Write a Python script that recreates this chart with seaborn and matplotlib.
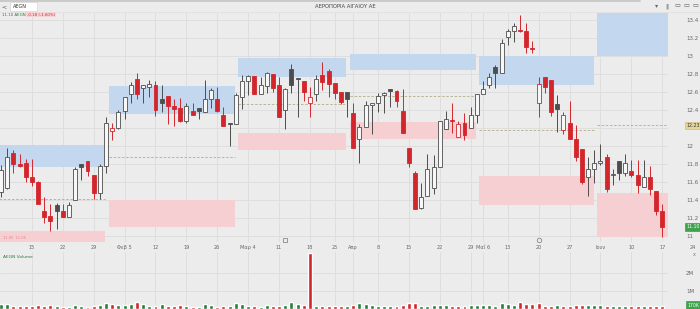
import numpy as np
import pandas as pd
import matplotlib
matplotlib.use("Agg")
import matplotlib.pyplot as plt
import seaborn as sns
from matplotlib.patches import Rectangle
from matplotlib.transforms import blended_transform_factory
from matplotlib.ticker import FixedLocator, FuncFormatter

# ---------------- data ----------------
opens = [11.49, 11.53, 11.92, 11.80, 11.81, 11.66, 11.60, 11.28, 11.22, 11.34,
         11.28, 11.21, 11.40, 11.80, 11.83, 11.68, 11.48, 11.78, 12.17, 12.20,
         12.39, 12.58, 12.74, 12.64, 12.66, 12.68, 12.52, 12.56, 12.44, 12.42,
         12.28, 12.39, 12.42, 12.38, 12.52, 12.52, 12.34, 12.26, 12.24, 12.54,
         12.72, 12.78, 12.58, 12.67, 12.80, 12.68, 12.40, 12.86, 12.76, 12.72,
         12.48, 12.58, 12.79, 12.83, 12.70, 12.60, 12.60, 12.37, 12.08, 12.21,
         12.46, 12.48, 12.57, 12.63, 12.61, 12.39, 11.98, 11.70, 11.31, 11.44,
         11.53, 11.77, 12.19, 12.29, 12.10, 12.26, 12.20, 12.34, 12.58, 12.68,
         12.88, 12.81, 13.21, 13.28, 13.29, 13.28, 13.09, 12.48, 12.77, 12.73,
         12.47, 12.18, 12.26, 12.08, 11.97, 11.66, 11.74, 11.81, 11.88, 11.68,
         11.83, 11.70, 11.72, 11.68, 11.54, 11.66, 11.50, 11.28]
highs = [11.79, 11.98, 11.96, 11.91, 11.86, 11.86, 11.61, 11.43, 11.36, 11.37,
         11.36, 11.38, 11.77, 11.80, 11.83, 11.68, 11.80, 12.32, 12.26, 12.40,
         12.55, 12.71, 12.81, 12.68, 12.73, 12.72, 12.68, 12.56, 12.52, 12.53,
         12.48, 12.48, 12.42, 12.73, 12.64, 12.66, 12.43, 12.26, 12.59, 12.79,
         12.79, 12.78, 12.77, 12.82, 12.80, 12.77, 12.64, 12.91, 12.76, 12.72,
         12.66, 12.79, 12.93, 12.86, 12.70, 12.60, 12.60, 12.48, 12.24, 12.50,
         12.48, 12.59, 12.60, 12.63, 12.62, 12.63, 11.98, 11.72, 11.59, 11.91,
         11.90, 12.28, 12.39, 12.48, 12.28, 12.37, 12.43, 12.58, 12.72, 12.81,
         12.90, 13.19, 13.30, 13.37, 13.46, 13.37, 13.17, 12.77, 12.77, 12.73,
         12.57, 12.38, 12.50, 12.23, 11.97, 11.88, 11.96, 12.02, 11.91, 11.74,
         11.83, 11.91, 11.84, 11.84, 11.84, 11.78, 11.50, 11.36]
lows = [11.43, 11.52, 11.70, 11.77, 11.60, 11.56, 11.35, 11.14, 11.06, 11.08,
        11.21, 11.21, 11.40, 11.62, 11.67, 11.41, 11.41, 11.70, 12.07, 12.19,
        12.30, 12.48, 12.52, 12.48, 12.54, 12.33, 12.38, 12.24, 12.22, 12.27,
        12.26, 12.34, 12.30, 12.38, 12.42, 12.38, 12.22, 12.00, 12.24, 12.41,
        12.57, 12.58, 12.58, 12.59, 12.60, 12.32, 12.19, 12.59, 12.32, 12.50,
        12.32, 12.50, 12.62, 12.54, 12.52, 12.47, 12.32, 11.98, 11.81, 12.21,
        12.13, 12.38, 12.37, 12.43, 12.43, 12.14, 11.77, 11.30, 11.30, 11.44,
        11.47, 11.77, 12.19, 12.14, 12.10, 12.07, 12.20, 12.26, 12.58, 12.64,
        12.64, 12.81, 13.12, 13.16, 13.27, 13.03, 13.03, 12.32, 12.59, 12.33,
        12.16, 12.13, 12.08, 11.83, 11.58, 11.44, 11.59, 11.79, 11.49, 11.57,
        11.62, 11.67, 11.66, 11.48, 11.54, 11.46, 11.23, 10.99]
closes = [11.73, 11.88, 11.80, 11.78, 11.66, 11.60, 11.36, 11.21, 11.17, 11.28,
          11.21, 11.34, 11.74, 11.77, 11.72, 11.48, 11.78, 12.26, 12.20, 12.38,
          12.54, 12.68, 12.58, 12.68, 12.69, 12.40, 12.48, 12.44, 12.41, 12.28,
          12.44, 12.34, 12.39, 12.52, 12.62, 12.39, 12.22, 12.24, 12.57, 12.72,
          12.78, 12.58, 12.68, 12.81, 12.64, 12.32, 12.63, 12.68, 12.75, 12.60,
          12.54, 12.74, 12.71, 12.69, 12.59, 12.49, 12.52, 11.98, 12.21, 12.46,
          12.48, 12.56, 12.59, 12.61, 12.50, 12.14, 11.81, 11.30, 11.43, 11.74,
          11.77, 12.28, 12.30, 12.28, 12.24, 12.12, 12.34, 12.58, 12.63, 12.77,
          12.81, 13.14, 13.28, 13.33, 13.28, 13.10, 13.08, 12.69, 12.66, 12.38,
          12.41, 12.34, 12.08, 11.88, 11.60, 11.74, 11.81, 11.83, 11.52, 11.69,
          11.70, 11.81, 11.68, 11.57, 11.66, 11.52, 11.28, 11.10]
volumes_m = [0.28, 0.28, 0.17, 0.17, 0.17, 0.17, 0.20, 0.17, 0.22, 0.17,
             0.13, 0.13, 0.20, 0.17, 0.13, 0.17, 0.20, 0.31, 0.28, 0.24,
             0.24, 0.28, 0.37, 0.28, 0.17, 0.18, 0.26, 0.17, 0.17, 0.24,
             0.18, 0.13, 0.13, 0.28, 0.22, 0.13, 0.17, 0.17, 0.35, 0.28,
             0.17, 0.17, 0.13, 0.22, 0.17, 0.17, 0.22, 0.39, 0.28, 0.24,
             3.10, 0.17, 0.17, 0.17, 0.17, 0.17, 0.17, 0.24, 0.35, 0.28,
             0.20, 0.17, 0.17, 0.17, 0.17, 0.20, 0.35, 0.31, 0.17, 0.17,
             0.20, 0.24, 0.20, 0.17, 0.17, 0.17, 0.20, 0.24, 0.20, 0.24,
             0.17, 0.35, 0.28, 0.20, 0.39, 0.28, 0.28, 0.31, 0.17, 0.17,
             0.20, 0.17, 0.17, 0.20, 0.20, 0.20, 0.20, 0.20, 0.17, 0.17,
             0.17, 0.17, 0.17, 0.17, 0.17, 0.17, 0.17, 0.17]

holidays = ["2024-03-18", "2024-03-25", "2024-03-29", "2024-04-01", "2024-05-01",
            "2024-05-02", "2024-05-03", "2024-05-06", "2024-06-24"]
week_ticks = ["2024-01-15", "2024-01-22", "2024-01-29", "2024-02-05", "2024-02-12",
              "2024-02-19", "2024-02-26", "2024-03-04", "2024-03-11", "2024-03-18",
              "2024-03-25", "2024-04-01", "2024-04-08", "2024-04-15", "2024-04-22",
              "2024-04-29", "2024-05-06", "2024-05-13", "2024-05-20", "2024-05-27",
              "2024-06-03", "2024-06-10", "2024-06-17", "2024-06-24"]
week_labels = ["15", "22", "29", "Φεβ 5", "12", "19", "26", "Μαρ 4", "11", "18",
               "25", "Απρ", "8", "15", "22", "29", "Μαΐ 6", "13", "20", "27",
               "Ιουν", "10", "17", "24"]
month_starts = ["2024-01-01", "2024-02-01", "2024-03-01", "2024-04-01", "2024-05-01", "2024-06-01"]
blue_top = [12.01, 12.67, 12.98, 13.02, 13.00, 13.50]
blue_bot = [11.77, 12.36, 12.77, 12.84, 12.68, 13.00]
pink_top = [11.05, 11.40, 12.14, 12.27, 11.67, 11.48]
pink_bot = [10.90, 11.10, 11.96, 12.08, 11.34, 10.99]
mid_level = [11.41, 11.88, 12.47, 12.56, 12.18, 12.23]
event_dates = ["2024-03-12", "2024-05-20"]
price_ticks = [11.0, 11.2, 11.4, 11.6, 11.8, 12.0, 12.2, 12.4, 12.6, 12.8, 13.0, 13.2, 13.4]
volume_ticks = [1.0, 2.0]
volume_tick_labels = ["1M", "2M"]

# ---------------- derived ----------------
o = np.array(opens); h = np.array(highs); l = np.array(lows); c = np.array(closes)
n = len(c)
idx = np.arange(n)
days = pd.bdate_range("2024-01-08", "2024-06-28")
days = days[~days.isin(pd.to_datetime(holidays))]
tick_pos = days.searchsorted(pd.to_datetime(week_ticks))
month_first = days.searchsorted(pd.to_datetime(month_starts))
event_pos = days.searchsorted(pd.to_datetime(event_dates))
prev_c = np.r_[c[0], c[:-1]]
down = c < prev_c
hollow = c > o

RED = "#d3262c"
DARK = "#4d4d4d"
GREEN = "#23803a"
BG = "#ececec"
GRID = "#dcdcdc"
BLUE_Z = "#c3d8ee"
PINK_Z = "#f5cfd2"
MID = "#b3ad88"

sns.set_theme(style="whitegrid")
plt.rcParams["font.family"] = ["DejaVu Sans"]

W, H = 700, 309
fig = plt.figure(figsize=(W / 100, H / 100), dpi=100, facecolor=BG)


def fx(px):
    return px / W


def fy(py):
    return 1 - py / H


XL = (-0.16, 107.93)
axp = fig.add_axes([0, fy(242), 668 / W, (242 - 13) / H])
axv = fig.add_axes([0, fy(309), 668 / W, (309 - 252) / H])

for ax in (axp, axv):
    ax.set_facecolor(BG)
    for s in ax.spines.values():
        s.set_visible(False)
    ax.grid(True, color=GRID, lw=0.6)
    ax.set_axisbelow(True)

# ----- price pane -----
axp.set_xlim(*XL)
axp.set_ylim(10.933, 13.478)

# zones
for m in range(len(month_starts)):
    x0 = month_first[m] - 0.6
    x1 = (month_first[m + 1] - 1.1) if m + 1 < len(month_starts) else XL[1]
    axp.add_patch(Rectangle((x0, blue_bot[m]), x1 - x0, blue_top[m] - blue_bot[m],
                            facecolor=BLUE_Z, edgecolor="none", zorder=1))
    axp.add_patch(Rectangle((x0, pink_bot[m]), x1 - x0, pink_top[m] - pink_bot[m],
                            facecolor=PINK_Z, edgecolor="none", zorder=1))
    axp.plot([x0, x1], [mid_level[m], mid_level[m]], color=MID, lw=0.6,
             dashes=(3, 2), zorder=1.5)

# candles
for i in idx:
    col = RED if down[i] else DARK
    face = "#f7f7f7" if hollow[i] else col
    axp.vlines(i, l[i], h[i], color=col, lw=0.7, zorder=2)
    body = max(abs(c[i] - o[i]), 0.006)
    axp.bar(i, body, bottom=min(o[i], c[i]), width=0.64, color=face,
            edgecolor=col, linewidth=0.6, zorder=3)

axp.xaxis.set_major_locator(FixedLocator(tick_pos))
axp.set_xticklabels(week_labels)
axp.tick_params(axis="x", length=0, pad=2.0, labelsize=3.6, labelcolor="#666666")
axp.yaxis.tick_right()
axp.yaxis.set_major_locator(FixedLocator(price_ticks))
tag_level = mid_level[-1]
axp.yaxis.set_major_formatter(FuncFormatter(
    lambda v, p: "" if abs(v - tag_level) < 0.06 else f"{round(v, 2):g}"))
axp.tick_params(axis="y", length=0, pad=13, labelsize=4, labelcolor="#666666")
axp.set_xlabel(""); axp.set_ylabel("")

# "24" beyond the last bar
trans_p = blended_transform_factory(axp.transData, axp.transAxes)
axp.text(tick_pos[-1], -0.022, week_labels[-1], transform=trans_p, ha="center", va="center",
         fontsize=3.6, color="#666666", clip_on=False)

# event markers
axp.plot([event_pos[0]], [0.01], marker="s", ms=3, mfc=BG, mec="#888888", mew=0.6,
         transform=trans_p, clip_on=False, zorder=5)
axp.plot([event_pos[1]], [0.01], marker="o", ms=3.2, mfc=BG, mec="#888888", mew=0.6,
         transform=trans_p, clip_on=False, zorder=5)

# zone text inside January pink
axp.text(0.3, pink_top[0] - 0.07, f"{pink_top[0]:.2f}  {pink_top[0]:.2f}", fontsize=2.6,
         color="#e08a8f", va="center", ha="left", zorder=4)

# right-side tags
trans_r = blended_transform_factory(fig.transFigure, axp.transData)
axp.text(fx(693), tag_level, f"{tag_level:.2f}", transform=trans_r, fontsize=3.3,
         color="#333333", ha="center", va="center", clip_on=False,
         bbox=dict(boxstyle="square,pad=0.25", fc="#e3d49c", ec="#c7b46a", lw=0.4))
axp.text(fx(693), c[-1], f"{c[-1]:.2f}", transform=trans_r, fontsize=3.3,
         color="white", ha="center", va="center", clip_on=False,
         bbox=dict(boxstyle="square,pad=0.25", fc="#3fa34d", ec="#2f8a3c", lw=0.4))

# ----- volume pane -----
vdf = pd.DataFrame({"pos": idx, "vol": volumes_m,
                    "dir": np.where(down, "down", "up")})
sns.barplot(data=vdf, x="pos", y="vol", hue="dir", palette={"up": GREEN, "down": RED},
            native_scale=True, dodge=False, width=0.64, errorbar=None, legend=False,
            saturation=1, ax=axv, zorder=3)
axv.set_xlim(*XL)
axv.set_ylim(0, 3.17)
axv.xaxis.set_major_locator(FixedLocator(tick_pos))
axv.set_xticklabels([])
axv.tick_params(axis="x", length=0)
axv.yaxis.tick_right()
axv.yaxis.set_major_locator(FixedLocator(volume_ticks))
axv.set_yticklabels(volume_tick_labels)
axv.tick_params(axis="y", length=0, pad=13, labelsize=4, labelcolor="#666666")
axv.set_xlabel(""); axv.set_ylabel("")
trans_v = blended_transform_factory(fig.transFigure, axv.transData)
axv.text(fx(693), volumes_m[-1] + 0.05, f"{volumes_m[-1] * 1000:.0f}K", transform=trans_v,
         fontsize=3.3, color="white", ha="center", va="center", clip_on=False,
         bbox=dict(boxstyle="square,pad=0.25", fc="#3fa34d", ec="#2f8a3c", lw=0.4))
axv.text(0.004, 0.95, "AEGN Volume", transform=axv.transAxes, fontsize=3.2,
         color=GREEN, ha="left", va="top")
fig.text(fx(694), fy(254), "x", fontsize=3.5, color="#777777", ha="center", va="center")

# ----- toolbar / headers -----
fig.add_artist(plt.Line2D([0, fx(640)], [fy(1), fy(1)], color="#c4c4c4", lw=1.2))
fig.add_artist(plt.Line2D([0, 1], [fy(12), fy(12)], color="#dedede", lw=0.5))
fig.add_artist(Rectangle((fx(10), fy(11)), 27 / W, 9 / H, transform=fig.transFigure,
                         facecolor="white", edgecolor="#cfcfcf", lw=0.4))
fig.text(fx(4), fy(6.5), "<", fontsize=4.5, color="#555555", ha="center", va="center")
fig.text(fx(13), fy(6.5), "AEGN", fontsize=3.5, color="#333333", ha="left", va="center")
fig.text(fx(345), fy(7), "ΑΕΡΟΠΟΡΙΑ ΑΙΓΑΙΟΥ ΑΕ", fontsize=3.8, color="#444444",
         ha="center", va="center")
for px, sym in [(657, "▾"), (667, "‖"), (677, "▭"), (686, "▭"), (695, "▭")]:
    fig.text(fx(px), fy(6), sym, fontsize=4.5, color="#666666", ha="center", va="center")
fig.text(fx(2), fy(14.5), f"{c[-1]:.2f} AEGN", fontsize=2.8, color=GREEN,
         ha="left", va="center")
fig.text(fx(27), fy(14.5), f"{c[-1] - c[-2]:+.2f} ({(c[-1] / c[-2] - 1) * 100:+.2f}%)",
         fontsize=2.8, color=RED, ha="left", va="center",
         bbox=dict(boxstyle="square,pad=0.15", fc="#f6d4d6", ec="none"))

fig.savefig("out.png", dpi=100, facecolor=BG)
